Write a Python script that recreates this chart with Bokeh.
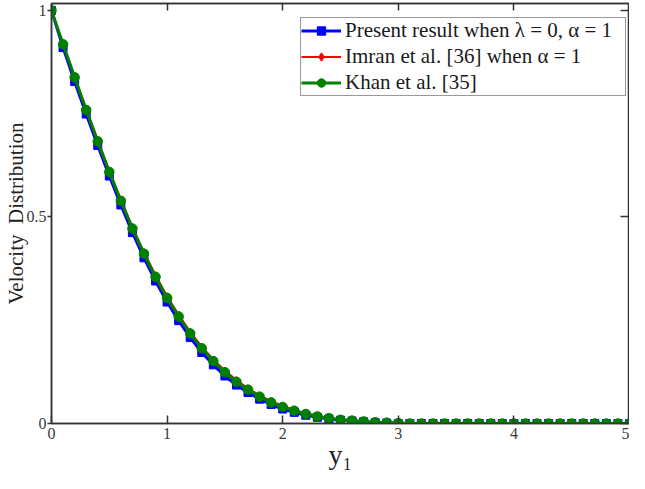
from bokeh.plotting import figure
from bokeh.models import Range1d, LinearAxis, FixedTicker, Legend, LegendItem
from bokeh.embed import file_html
from bokeh.resources import INLINE

x_vals = [0.0, 0.1, 0.2, 0.3, 0.4, 0.5, 0.6, 0.7, 0.8, 0.9,
          1.0, 1.1, 1.2, 1.3, 1.4, 1.5, 1.6, 1.7, 1.8, 1.9,
          2.0, 2.1, 2.2, 2.3, 2.4, 2.5, 2.6, 2.7, 2.8, 2.9,
          3.0, 3.1, 3.2, 3.3, 3.4, 3.5, 3.6, 3.7, 3.8, 3.9,
          4.0, 4.1, 4.2, 4.3, 4.4, 4.5, 4.6, 4.7, 4.8, 4.9, 5.0]

present = [1.000, 0.910, 0.828, 0.749, 0.673, 0.599, 0.529, 0.462, 0.401, 0.345,
           0.294, 0.249, 0.208, 0.172, 0.142, 0.115, 0.093, 0.075, 0.059, 0.046,
           0.035, 0.027, 0.020, 0.015, 0.011, 0.008, 0.006, 0.004, 0.002, 0.001,
           0.000, 0.000, 0.000, 0.000, 0.000, 0.000, 0.000, 0.000, 0.000, 0.000,
           0.000, 0.000, 0.000, 0.000, 0.000, 0.000, 0.000, 0.000, 0.000, 0.000, 0.000]

imran = [1.000, 0.920, 0.840, 0.762, 0.686, 0.612, 0.542, 0.476, 0.415, 0.359,
         0.308, 0.263, 0.222, 0.186, 0.155, 0.128, 0.105, 0.085, 0.068, 0.054,
         0.043, 0.033, 0.025, 0.019, 0.014, 0.010, 0.007, 0.005, 0.003, 0.002,
         0.001, 0.000, 0.000, 0.000, 0.000, 0.000, 0.000, 0.000, 0.000, 0.000,
         0.000, 0.000, 0.000, 0.000, 0.000, 0.000, 0.000, 0.000, 0.000, 0.000, 0.000]

khan = [1.000, 0.918, 0.838, 0.759, 0.683, 0.609, 0.539, 0.472, 0.411, 0.355,
        0.304, 0.259, 0.218, 0.182, 0.151, 0.124, 0.101, 0.082, 0.065, 0.051,
        0.040, 0.031, 0.023, 0.017, 0.013, 0.009, 0.007, 0.005, 0.003, 0.002,
        0.001, 0.000, 0.000, 0.000, 0.000, 0.000, 0.000, 0.000, 0.000, 0.000,
        0.000, 0.000, 0.000, 0.000, 0.000, 0.000, 0.000, 0.000, 0.000, 0.000, 0.000]

x_ticks = [0, 1, 2, 3, 4, 5]
y_ticks = [0, 0.5, 1]
y_tick_labels = {0: "0", 0.5: "0.5", 1: "1"}

x_title = "y\u2081"
y_title = "Velocity \u00a0Distribution"
legend_labels = ["Present result when \u03bb = 0, \u03b1 = 1",
                 "Imran et al. [36] when \u03b1 = 1",
                 "Khan et al. [35]"]

FONT = "Liberation Serif"
AX = "#333333"

p = figure(width=629, height=473, x_range=Range1d(0, 5), y_range=Range1d(0, 1.0167),
           output_backend="svg", toolbar_location=None,
           min_border_left=48, min_border_right=0, min_border_top=3, min_border_bottom=50)
p.grid.visible = False
p.outline_line_color = AX
p.outline_line_width = 1.5
p.background_fill_color = "white"

for ax in p.xaxis:
    ax.ticker = FixedTicker(ticks=x_ticks)
    ax.major_tick_in = 8
    ax.major_tick_out = 0
    ax.major_label_standoff = 4
    ax.axis_label = x_title
    ax.axis_label_text_font_size = "28px"
    ax.axis_label_standoff = -3
for ax in p.yaxis:
    ax.ticker = FixedTicker(ticks=y_ticks)
    ax.major_label_overrides = y_tick_labels
    ax.major_tick_in = 0
    ax.major_tick_out = 4
    ax.major_label_standoff = 1
    ax.axis_label = y_title
    ax.axis_label_text_font_size = "21px"
    ax.axis_label_standoff = -4
for ax in list(p.xaxis) + list(p.yaxis):
    ax.minor_tick_line_color = None
    ax.axis_line_color = AX
    ax.axis_line_width = 1.5
    ax.major_tick_line_color = AX
    ax.major_tick_line_width = 1.5
    ax.major_label_text_font = FONT
    ax.major_label_text_font_size = "16px"
    ax.major_label_text_color = "#3a3a3a"
    ax.axis_label_text_font = FONT
    ax.axis_label_text_font_style = "normal"
    ax.axis_label_text_color = "#222222"

top = LinearAxis(ticker=FixedTicker(ticks=x_ticks), major_tick_in=7, major_tick_out=0,
                 major_label_overrides={t: "" for t in x_ticks}, major_label_standoff=0,
                 minor_tick_line_color=None, axis_line_color=AX, axis_line_width=1.5,
                 major_tick_line_color=AX, major_tick_line_width=1.5)
p.add_layout(top, "above")
right = LinearAxis(ticker=FixedTicker(ticks=y_ticks), major_tick_in=9, major_tick_out=0,
                   major_label_overrides={t: "" for t in y_ticks}, major_label_standoff=0,
                   minor_tick_line_color=None, axis_line_color=AX, axis_line_width=1.5,
                   major_tick_line_color=AX, major_tick_line_width=1.5)
p.add_layout(right, "right")

b_line = p.line(x_vals, present, line_color="#0000ff", line_width=3)
b_pts = p.scatter(x_vals, present, marker="square", size=8, fill_color="#0000ff", line_color="#0000ff")
r_line = p.line(x_vals, imran, line_color="#ff0000", line_width=2)
r_pts = p.scatter(x_vals, imran, marker="diamond", size=7, fill_color="#ff0000", line_color="#ff0000")
g_line = p.line(x_vals, khan, line_color="#008000", line_width=3)
g_pts = p.scatter(x_vals, khan, marker="circle", size=9.5, fill_color="#008000", line_color="#008000")

legend = Legend(items=[
    LegendItem(label=legend_labels[0], renderers=[b_line, b_pts]),
    LegendItem(label=legend_labels[1], renderers=[r_line, r_pts]),
    LegendItem(label=legend_labels[2], renderers=[g_line, g_pts]),
], location=(249, 327))
legend.label_text_font = FONT
legend.label_text_font_size = "21px"
legend.label_text_color = "#1a1a1a"
legend.label_height = 21
legend.label_width = 280
legend.glyph_height = 21
legend.glyph_width = 40
legend.label_standoff = 4
legend.spacing = 1
legend.padding = 0
legend.margin = 0
legend.border_line_color = AX
legend.border_line_width = 1.5
legend.background_fill_alpha = 1.0
p.add_layout(legend, "center")

open("out.html", "w").write(file_html(p, INLINE))
